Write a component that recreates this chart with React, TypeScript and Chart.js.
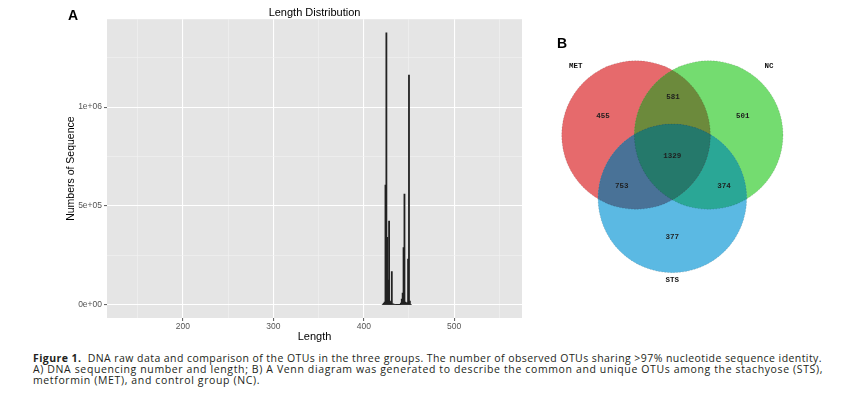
import React, { useEffect, useLayoutEffect, useRef } from 'react';
import { Chart, registerables } from 'chart.js';
Chart.register(...registerables);

// ---------- Panel A: length distribution ----------
const lengths = [421, 422, 423, 424, 425, 426, 427, 428, 429, 430, 431, 432, 433, 434, 435, 436, 437, 438, 439, 440, 441, 442, 443, 444, 445, 446, 447, 448, 449, 450, 451, 452];
const counts = [3000, 8000, 15000, 606000, 1375000, 342000, 126000, 424000, 20000, 12000, 168000, 6000, 4000, 3000, 2000, 1500, 1000, 1000, 1000, 1000, 10000, 30000, 60000, 290000, 560000, 15000, 10000, 12000, 232000, 1162000, 20000, 3000];
const xMajorTicks = [200, 300, 400, 500];
const xMinorTicks = [150, 250, 350, 450, 550];
const yMajorTicks = [0, 500000, 1000000];
const yMinorTicks = [250000, 750000, 1250000];
const yTickLabels = ['0e+00', '5e+05', '1e+06'];

// ---------- Panel B: Venn diagram ----------
const vennSets = ['MET', 'NC', 'STS'];
const vennSetX = [-0.489, 0.489, 0];
const vennSetY = [0, 0, -0.853];
const vennRadius = 1;
const vennRegionCounts = [455, 581, 501, 753, 1329, 374, 377];
const vennRegionX = [-0.933, 0.01, 0.947, -0.682, 0, 0.695, 0];
const vennRegionY = [0.256, 0.51, 0.256, -0.682, -0.283, -0.682, -1.37];
const vennSetLabelX = [-1.3, 1.3, 0];
const vennSetLabelY = [0.93, 0.93, -1.95];

const captionLine1 = 'DNA raw data and comparison of the OTUs in the three groups. The number of observed OTUs sharing >97% nucleotide sequence identity.';
const captionLine2 = 'A) DNA sequencing number and length; B) A Venn diagram was generated to describe the common and unique OTUs among the stachyose (STS),';
const captionLine3 = 'metformin (MET), and control group (NC).';

const panelBg = {
  id: 'panelBg',
  beforeDraw(chart: any) {
    const { ctx, chartArea } = chart;
    if (!chartArea) return;
    ctx.save();
    ctx.fillStyle = '#E5E5E5';
    ctx.fillRect(chartArea.left, chartArea.top, chartArea.right - chartArea.left, chartArea.bottom - chartArea.top);
    ctx.restore();
  },
};

const vennPlugin = {
  id: 'vennPlugin',
  afterDatasetsDraw(chart: any) {
    const { ctx } = chart;
    const xs = chart.scales.x;
    const pts = chart.getDatasetMeta(0).data.map((e: any) => ({ x: e.x, y: e.y }));
    const r = Math.abs(xs.getPixelForValue(vennRadius) - xs.getPixelForValue(0));
    const circ = (i: number) => {
      ctx.beginPath();
      ctx.arc(pts[i].x, pts[i].y, r, 0, Math.PI * 2);
    };
    const fill = (i: number, c: string) => {
      circ(i);
      ctx.fillStyle = c;
      ctx.fill();
    };
    ctx.save();
    fill(0, '#E66A6C');
    fill(1, '#74DC70');
    fill(2, '#5BB9E3');
    ctx.save(); circ(1); ctx.clip(); fill(2, '#2AA796'); ctx.restore();
    ctx.save(); circ(0); ctx.clip(); fill(1, '#6C8A3C'); fill(2, '#497297');
    circ(1); ctx.clip(); fill(2, '#25796B'); ctx.restore();
    ctx.setLineDash([1.5, 1.5]);
    ctx.lineWidth = 0.8;
    ctx.strokeStyle = 'rgba(0,0,0,0.18)';
    for (let i = 0; i < 3; i++) { circ(i); ctx.stroke(); }
    ctx.setLineDash([]);
    ctx.font = 'bold 7.5px "Liberation Mono"';
    ctx.textAlign = 'center';
    ctx.textBaseline = 'middle';
    ctx.fillStyle = '#1E1E1E';
    chart.getDatasetMeta(1).data.forEach((e: any, i: number) => {
      ctx.fillText(String(vennRegionCounts[i]), e.x, e.y);
    });
    ctx.fillStyle = '#111';
    chart.getDatasetMeta(2).data.forEach((e: any, i: number) => {
      ctx.fillText(vennSets[i], e.x, e.y);
    });
    ctx.restore();
  },
};

const VENN_W = 300;
const VENN_H = 260;
const VENN_UNIT = 74.3;
const VENN_CX = 132.35;
const VENN_CY = 95;

function Caption() {
  const r1 = useRef<HTMLDivElement>(null);
  const r2 = useRef<HTMLDivElement>(null);
  const r3 = useRef<HTMLDivElement>(null);
  useLayoutEffect(() => {
    const fit = (el: HTMLDivElement | null, target: number) => {
      if (!el) return 0;
      el.style.letterSpacing = '0px';
      const w = el.getBoundingClientRect().width;
      const n = (el.textContent || '').length;
      const ls = (target - w) / n;
      el.style.letterSpacing = ls + 'px';
      return ls;
    };
    fit(r1.current, 789);
    const ls2 = fit(r2.current, 790);
    if (r3.current) r3.current.style.letterSpacing = ls2 + 'px';
  }, []);
  const lineStyle: React.CSSProperties = { whiteSpace: 'nowrap', display: 'block', width: 'max-content' };
  return (
    <div style={{ position: 'absolute', left: 33, top: 353, fontFamily: '"Open Sans", sans-serif', fontSize: 10.5, lineHeight: '11px', color: '#231F20' }}>
      <div ref={r1} style={lineStyle}><b>Figure 1.</b>{'\u00a0 '}{captionLine1}</div>
      <div ref={r2} style={lineStyle}>{captionLine2}</div>
      <div ref={r3} style={lineStyle}>{captionLine3}</div>
    </div>
  );
}

export default function App() {
  const aRef = useRef<HTMLCanvasElement>(null);
  const bRef = useRef<HTMLCanvasElement>(null);

  useEffect(() => {
    if (!aRef.current || !bRef.current) return;
    const isXMajor = (v: number) => xMajorTicks.includes(v);
    const isYMajor = (v: number) => yMajorTicks.includes(v);
    const chartA = new Chart(aRef.current, {
      type: 'bar',
      data: {
        datasets: [
          {
            data: lengths.map((l, i) => ({ x: l, y: counts[i] })),
            backgroundColor: '#222222',
            borderWidth: 0,
            barThickness: 1.15,
          } as any,
        ],
      },
      options: {
        animation: false,
        responsive: false,
        devicePixelRatio: 1,
        layout: { padding: { left: 59, right: 18, top: 0, bottom: 0 } },
        plugins: {
          legend: { display: false },
          tooltip: { enabled: false },
          title: {
            display: true,
            text: 'Length Distribution',
            fullSize: false,
            color: '#000',
            font: { size: 11, family: '"Liberation Sans"', weight: 'normal' },
            padding: { top: 6, bottom: 0 },
          } as any,
        },
        scales: {
          x: {
            type: 'linear',
            min: 116,
            max: 575,
            offset: false,
            afterBuildTicks: (s: any) => {
              s.ticks = [...xMinorTicks, ...xMajorTicks].sort((a, b) => a - b).map((v) => ({ value: v }));
            },
            afterFit: (s: any) => { s.height = 27; },
            ticks: {
              autoSkip: false,
              maxRotation: 0,
              padding: 1,
              color: '#555',
              font: { size: 8.5, family: '"Liberation Sans"' },
              callback: (v: any) => (isXMajor(Number(v)) ? String(v) : ''),
            },
            grid: {
              offset: false,
              color: (c: any) => (c.tick && isXMajor(c.tick.value) ? '#FFFFFF' : '#F2F2F2'),
              lineWidth: (c: any) => (c.tick && isXMajor(c.tick.value) ? 1.1 : 0.6),
              tickColor: (c: any) => (c.tick && isXMajor(c.tick.value) ? '#666' : 'rgba(0,0,0,0)'),
              tickLength: 3,
              drawTicks: true,
            },
            border: { display: false },
            title: {
              display: true,
              text: 'Length',
              color: '#000',
              font: { size: 11, family: '"Liberation Sans"' },
              padding: { top: 0, bottom: 1.7 },
            },
          } as any,
          y: {
            type: 'linear',
            min: -66000,
            max: 1444000,
            afterBuildTicks: (s: any) => {
              s.ticks = [...yMinorTicks, ...yMajorTicks].sort((a, b) => a - b).map((v) => ({ value: v }));
            },
            afterFit: (s: any) => { s.width = 48; },
            ticks: {
              autoSkip: false,
              padding: 2,
              color: '#555',
              font: { size: 8.5, family: '"Liberation Sans"' },
              callback: (v: any) => {
                const i = yMajorTicks.indexOf(Number(v));
                return i >= 0 ? yTickLabels[i] : '';
              },
            },
            grid: {
              offset: false,
              color: (c: any) => (c.tick && isYMajor(c.tick.value) ? '#FFFFFF' : '#F2F2F2'),
              lineWidth: (c: any) => (c.tick && isYMajor(c.tick.value) ? 1.1 : 0.6),
              tickColor: (c: any) => (c.tick && isYMajor(c.tick.value) ? '#666' : 'rgba(0,0,0,0)'),
              tickLength: 3,
              drawTicks: true,
            },
            border: { display: false },
            title: {
              display: true,
              text: 'Numbers of Sequence',
              color: '#000',
              font: { size: 10.5, family: '"Liberation Sans"' },
              padding: { top: 6, bottom: 0 },
            },
          } as any,
        },
      },
      plugins: [panelBg],
    });

    const chartB = new Chart(bRef.current, {
      type: 'scatter',
      data: {
        datasets: [
          { data: vennSetX.map((x, i) => ({ x, y: vennSetY[i] })), pointRadius: 0 },
          { data: vennRegionX.map((x, i) => ({ x, y: vennRegionY[i] })), pointRadius: 0 },
          { data: vennSetLabelX.map((x, i) => ({ x, y: vennSetLabelY[i] })), pointRadius: 0 },
        ],
      },
      options: {
        animation: false,
        responsive: false,
        devicePixelRatio: 1,
        layout: { padding: 0 },
        plugins: { legend: { display: false }, tooltip: { enabled: false } },
        scales: {
          x: { type: 'linear', display: false, min: -VENN_CX / VENN_UNIT, max: (VENN_W - VENN_CX) / VENN_UNIT },
          y: { type: 'linear', display: false, min: -(VENN_H - VENN_CY) / VENN_UNIT, max: VENN_CY / VENN_UNIT },
        },
      },
      plugins: [vennPlugin],
    });

    return () => {
      chartA.destroy();
      chartB.destroy();
    };
  }, []);

  const letter: React.CSSProperties = { position: 'absolute', fontFamily: '"Liberation Sans", Arial, sans-serif', fontWeight: 'bold', fontSize: 14, lineHeight: '14px', color: '#000' };

  return (
    <div style={{ position: 'absolute', left: 0, top: 0, width: 850, height: 399, background: '#fff', overflow: 'hidden' }}>
      <canvas ref={aRef} width={540} height={345} style={{ position: 'absolute', left: 0, top: 0, width: 540, height: 345 }} />
      <canvas ref={bRef} width={VENN_W} height={VENN_H} style={{ position: 'absolute', left: 540, top: 40, width: VENN_W, height: VENN_H }} />
      <div style={{ ...letter, left: 68, top: 8 }}>A</div>
      <div style={{ ...letter, left: 557, top: 36 }}>B</div>
      <Caption />
    </div>
  );
}
